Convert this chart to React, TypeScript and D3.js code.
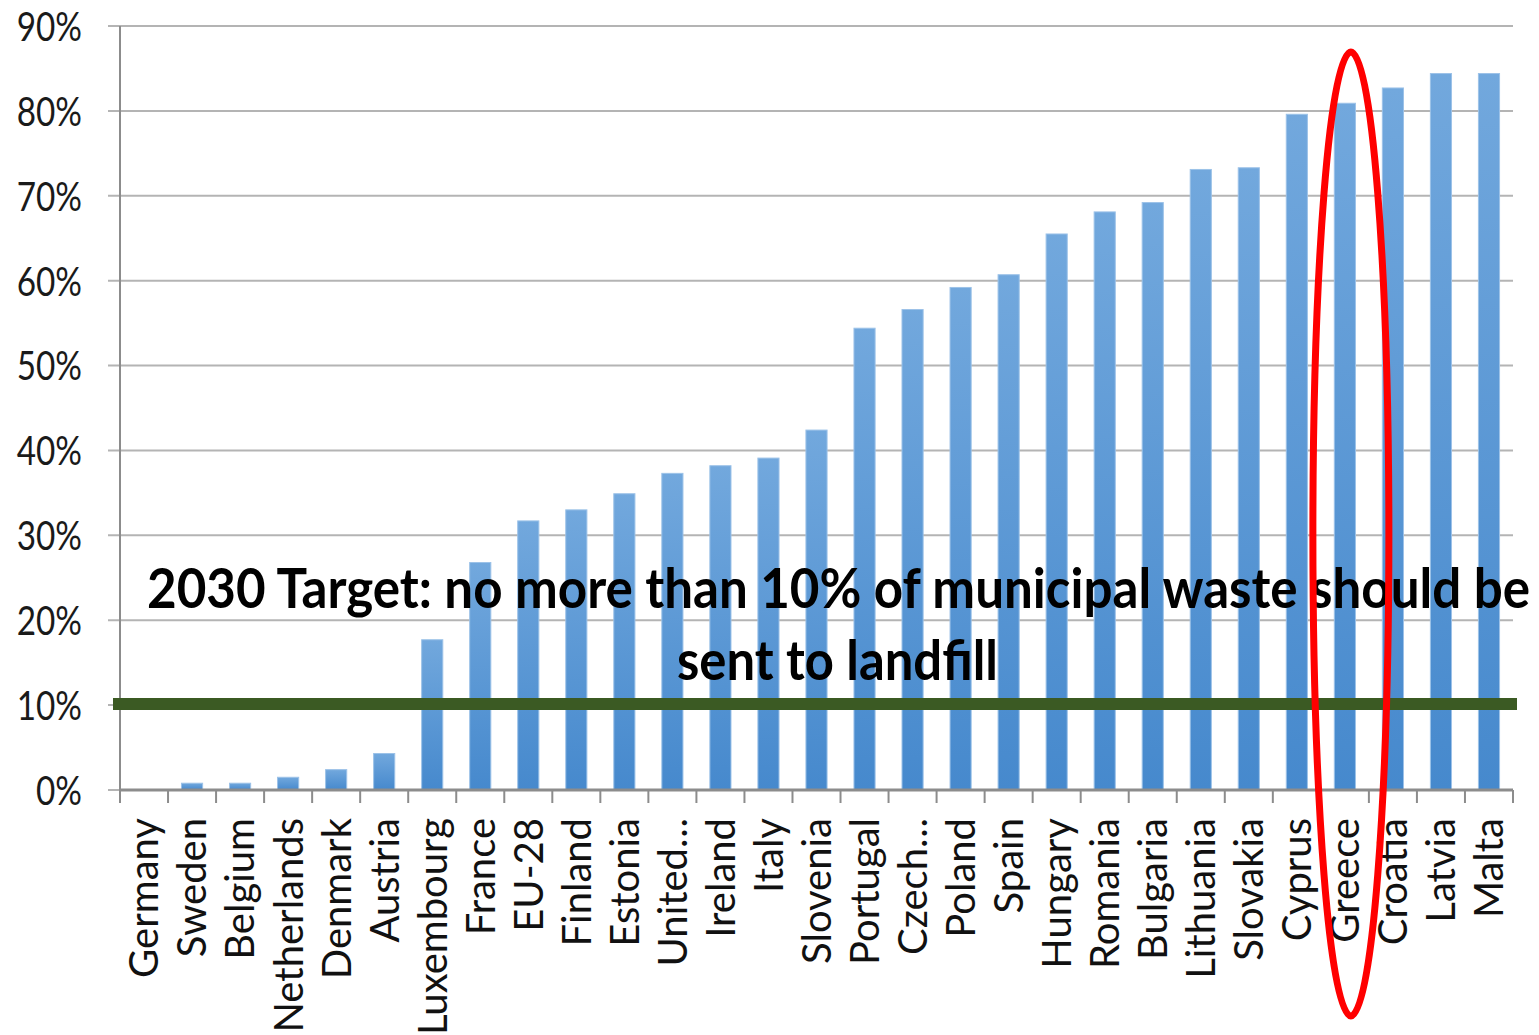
import React, { useEffect } from 'react';
import * as d3 from 'd3';

const countries = [
  'Germany', 'Sweden', 'Belgium', 'Netherlands', 'Denmark', 'Austria', 'Luxembourg',
  'France', 'EU-28', 'Finland', 'Estonia', 'United…', 'Ireland', 'Italy', 'Slovenia',
  'Portugal', 'Czech…', 'Poland', 'Spain', 'Hungary', 'Romania', 'Bulgaria',
  'Lithuania', 'Slovakia', 'Cyprus', 'Greece', 'Croatia', 'Latvia', 'Malta',
];

// share of municipal waste landfilled (%)
const landfillShare = [
  0, 0.8, 0.8, 1.5, 2.4, 4.3, 17.7,
  26.8, 31.7, 33.0, 34.9, 37.3, 38.2, 39.1, 42.4,
  54.4, 56.6, 59.2, 60.7, 65.5, 68.1, 69.2,
  73.1, 73.3, 79.6, 80.9, 82.7, 84.4, 84.4,
];

const yTicks = [0, 10, 20, 30, 40, 50, 60, 70, 80, 90];
const target = 10;
const highlighted = 'Greece';
const noteLines = ['2030 Target: no more than 10% of municipal waste should be', 'sent to landfill'];

const W = 1539;
const H = 1035;

const App: React.FC = () => {
  useEffect(() => {
    document.body.style.margin = '0';
  }, []);

  const x = d3.scaleBand<string>()
    .domain(countries)
    .range([120, 1513])
    .paddingInner(0.56)
    .paddingOuter(0.28);

  const y = d3.scaleLinear().domain([0, 90]).range([790, 26]);

  const step = x.step();
  const tickXs = d3.range(countries.length + 1).map(i => 120 + i * step);
  const gx = x(highlighted)! + x.bandwidth() / 2 + 6;

  return (
    <svg width={W} height={H} style={{ display: 'block', background: '#fff' }}>
      <defs>
        <linearGradient id="barFill" x1="0" y1="0" x2="0" y2="1">
          <stop offset="0%" stopColor="#72a8dd" />
          <stop offset="100%" stopColor="#4689cd" />
        </linearGradient>
      </defs>

      {/* gridlines */}
      {yTicks.map(t => (
        <line key={t} x1={108} x2={1513} y1={y(t)} y2={y(t)} stroke="#b4b4b4" strokeWidth={2} />
      ))}

      {/* y axis */}
      <line x1={120} x2={120} y1={y(90)} y2={y(0)} stroke="#8c8c8c" strokeWidth={2} />
      {yTicks.map(t => (
        <g key={t} transform={`translate(82,${y(t)}) scale(0.9,1.12)`}>
          <text dy="0.36em" textAnchor="end" fontFamily="Lato, sans-serif" fontSize={37} fill="#1a1a1a">
            {t}%
          </text>
        </g>
      ))}

      {/* bars */}
      {countries.map((c, i) => (
        <rect key={c} x={x(c)} y={y(landfillShare[i])} width={x.bandwidth()}
          height={y(0) - y(landfillShare[i])} fill="url(#barFill)"
          stroke="#9cc2e8" strokeWidth={1} />
      ))}

      {/* x axis */}
      <line x1={120} x2={1513} y1={y(0)} y2={y(0)} stroke="#8c8c8c" strokeWidth={3} />
      {tickXs.map((tx, i) => (
        <line key={i} x1={tx} x2={tx} y1={y(0)} y2={y(0) + 13} stroke="#8c8c8c" strokeWidth={2} />
      ))}
      {countries.map(c => (
        <text key={c} transform={`translate(${x(c)! + x.bandwidth() / 2},818) rotate(-90)`}
          textAnchor="end" dy="0.36em" fontFamily="Lato, sans-serif" fontSize={40} fill="#111">
          {c}
        </text>
      ))}

      {/* annotation */}
      <text x={147} y={608} fontFamily="Lato, sans-serif" fontWeight="bold" fontSize={55}
        textLength={1383} lengthAdjust="spacingAndGlyphs" fill="#000">
        {noteLines[0]}
      </text>
      <text x={677} y={680} fontFamily="Lato, sans-serif" fontWeight="bold" fontSize={55}
        textLength={321} lengthAdjust="spacingAndGlyphs" fill="#000">
        {noteLines[1]}
      </text>

      {/* target line */}
      <line x1={113} x2={1517} y1={y(target) - 1} y2={y(target) - 1} stroke="#3b5a23" strokeWidth={12} />

      {/* highlight ellipse */}
      <ellipse cx={gx} cy={534} rx={38} ry={482} fill="none" stroke="#ff0000" strokeWidth={7} />
    </svg>
  );
};

export default App;
